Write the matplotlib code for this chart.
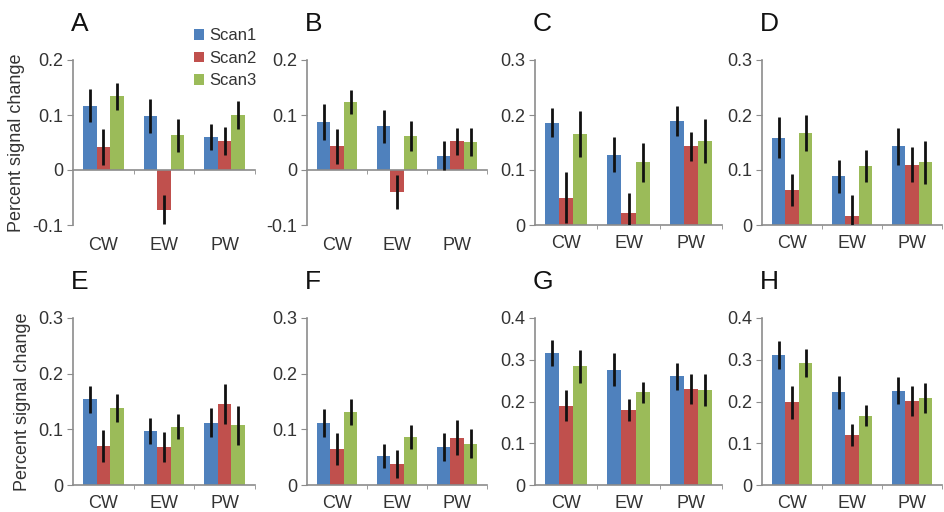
import matplotlib
matplotlib.use('Agg')
import numpy as np
import matplotlib.pyplot as plt
from matplotlib.ticker import FuncFormatter

plt.rcParams['font.family'] = ['Liberation Sans', 'DejaVu Sans']
plt.rcParams['axes.unicode_minus'] = False

panels = ['A', 'B', 'C', 'D', 'E', 'F', 'G', 'H']
categories = ['CW', 'EW', 'PW']
series = ['Scan1', 'Scan2', 'Scan3']
colors = ['#4F81BD', '#C0504D', '#9BBB59']

# mean per panel, order CW, EW, PW
scan1_mean = [[0.117, 0.098, 0.060], [0.087, 0.080, 0.026], [0.186, 0.128, 0.189], [0.159, 0.089, 0.143],
              [0.154, 0.097, 0.112], [0.111, 0.052, 0.068], [0.316, 0.276, 0.260], [0.311, 0.222, 0.226]]
scan2_mean = [[0.042, -0.072, 0.053], [0.043, -0.040, 0.052], [0.050, 0.021, 0.143], [0.064, 0.016, 0.110],
              [0.070, 0.069, 0.145], [0.065, 0.037, 0.085], [0.190, 0.179, 0.231], [0.198, 0.120, 0.201]]
scan3_mean = [[0.134, 0.063, 0.100], [0.123, 0.062, 0.051], [0.166, 0.114, 0.153], [0.167, 0.108, 0.114],
              [0.139, 0.105, 0.107], [0.131, 0.086, 0.074], [0.284, 0.222, 0.227], [0.292, 0.166, 0.209]]
scan1_err = [[0.030, 0.031, 0.024], [0.033, 0.030, 0.026], [0.026, 0.032, 0.027], [0.037, 0.030, 0.034],
             [0.024, 0.024, 0.026], [0.025, 0.021, 0.025], [0.031, 0.039, 0.032], [0.034, 0.039, 0.032]]
scan2_err = [[0.033, 0.026, 0.025], [0.032, 0.031, 0.025], [0.047, 0.038, 0.027], [0.029, 0.038, 0.031],
             [0.029, 0.027, 0.036], [0.029, 0.025, 0.032], [0.037, 0.026, 0.036], [0.039, 0.027, 0.036]]
scan3_err = [[0.025, 0.030, 0.026], [0.022, 0.028, 0.025], [0.042, 0.035, 0.040], [0.033, 0.029, 0.039],
             [0.025, 0.022, 0.035], [0.023, 0.021, 0.026], [0.040, 0.025, 0.038], [0.033, 0.025, 0.036]]
y_min = [-0.1, -0.1, 0, 0, 0, 0, 0, 0]
y_max = [0.2, 0.2, 0.3, 0.3, 0.3, 0.3, 0.4, 0.4]

means = [scan1_mean, scan2_mean, scan3_mean]
errs = [scan1_err, scan2_err, scan3_err]

W, H = 944, 512
lefts = [73, 307, 535, 762]
widths = [182, 180, 187, 180]
rows = [(60, 225), (318, 485)]

axis_gray = '#8c8c8c'
text_col = '#333333'

fig = plt.figure(figsize=(W / 100, H / 100), dpi=100)

x = np.arange(len(categories))
bw = 0.225
for i, name in enumerate(panels):
    r, c = divmod(i, 4)
    top, bot = rows[r]
    ax = fig.add_axes([lefts[c] / W, 1 - bot / H, widths[c] / W, (bot - top) / H])
    for s in range(3):
        ax.bar(x + (s - 1) * bw, means[s][i], bw, color=colors[s], label=series[s], zorder=2)
        ax.errorbar(x + (s - 1) * bw, means[s][i], yerr=errs[s][i], fmt='none',
                    ecolor='#111111', elinewidth=2, capsize=0, zorder=3)
    ax.set_xlim(-0.5, 2.5)
    ax.set_ylim(y_min[i], y_max[i])
    ax.set_yticks(np.arange(y_min[i], y_max[i] + 0.001, 0.1))
    ax.yaxis.set_major_formatter(FuncFormatter(lambda v, p: '%g' % round(v, 2)))
    for sp in ['top', 'right']:
        ax.spines[sp].set_visible(False)
    for sp in ['left', 'bottom']:
        ax.spines[sp].set_color(axis_gray)
        ax.spines[sp].set_linewidth(1.2)
    ax.tick_params(axis='y', length=4, color=axis_gray, labelsize=13, labelcolor=text_col, pad=3)
    ax.set_xticks([0.5, 1.5, 2.5], minor=True)
    ax.tick_params(axis='x', which='minor', length=3, color=axis_gray)
    ax.set_xticks(x)
    if y_min[i] < 0:
        ax.spines['bottom'].set_position(('data', 0))
        ax.tick_params(axis='x', which='major', labelbottom=False, length=0)
        sec = ax.secondary_xaxis('bottom')
        sec.set_xticks(x, categories)
        sec.spines['bottom'].set_visible(False)
        sec.tick_params(length=0, labelsize=13, labelcolor=text_col, pad=9)
    else:
        ax.set_xticklabels(categories)
        ax.tick_params(axis='x', which='major', length=0, labelsize=13, labelcolor=text_col, pad=7)
    if c == 0:
        ax.set_ylabel('Percent signal change', fontsize=13, color=text_col, labelpad=5)
    fig.text((lefts[c] - 2) / W, 1 - (top - 36) / H, name, fontsize=19, color='#111111',
             ha='left', va='center')
    if i == 0:
        ax.legend(loc='upper left', bbox_to_anchor=(186 / W, 1 - 20 / H),
                  bbox_transform=fig.transFigure, frameon=False, fontsize=12,
                  handlelength=0.6, handleheight=0.6, handletextpad=0.3,
                  labelspacing=0.45, borderpad=0, labelcolor=text_col)

fig.savefig('out.png', dpi=100, facecolor='white')
